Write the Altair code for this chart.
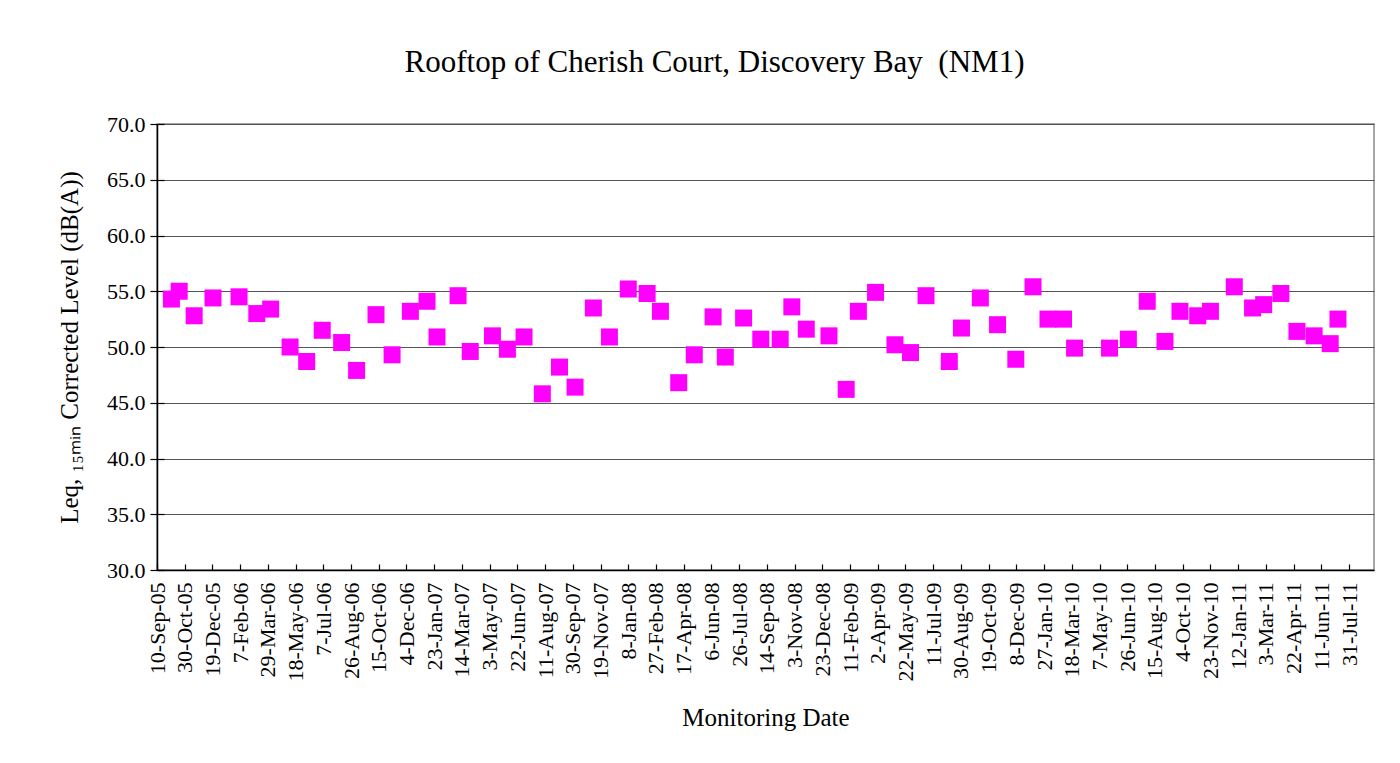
import altair as alt
import pandas as pd

# Monitoring dates and corrected levels (dB(A))
dates = [
    "2005-10-06", "2005-10-20", "2005-11-16", "2005-12-20", "2006-02-05",
    "2006-03-09", "2006-04-03", "2006-05-08", "2006-06-07", "2006-07-05",
    "2006-08-09", "2006-09-05", "2006-10-10", "2006-11-08", "2006-12-11",
    "2007-01-10", "2007-01-28", "2007-03-07", "2007-03-29", "2007-05-08",
    "2007-06-04", "2007-07-04", "2007-08-06", "2007-09-06", "2007-10-04",
    "2007-11-06", "2007-12-05", "2008-01-08", "2008-02-11", "2008-03-06",
    "2008-04-08", "2008-05-06", "2008-06-09", "2008-07-01", "2008-08-03",
    "2008-09-03", "2008-10-08", "2008-10-29", "2008-11-24", "2009-01-04",
    "2009-02-04", "2009-02-26", "2009-03-29", "2009-05-03", "2009-05-31",
    "2009-06-28", "2009-08-09", "2009-08-31", "2009-10-04", "2009-11-04",
    "2009-12-07", "2010-01-07", "2010-02-03", "2010-03-03", "2010-03-23",
    "2010-05-25", "2010-06-28", "2010-08-01", "2010-09-02", "2010-09-29",
    "2010-10-31", "2010-11-23", "2011-01-05", "2011-02-07", "2011-02-27",
    "2011-03-30", "2011-04-28", "2011-05-29", "2011-06-27", "2011-07-11",
]
levels = [
    54.3, 55.0, 52.8, 54.4, 54.5, 53.0, 53.4, 50.0, 48.7, 51.5,
    50.4, 47.9, 52.9, 49.3, 53.2, 54.1, 50.9, 54.6, 49.6, 51.0,
    49.8, 50.9, 45.8, 48.2, 46.4, 53.5, 50.9, 55.2, 54.8, 53.2,
    46.8, 49.3, 52.7, 49.1, 52.6, 50.7, 50.7, 53.6, 51.6, 51.0,
    46.2, 53.2, 54.9, 50.2, 49.5, 54.6, 48.7, 51.7, 54.4, 52.0,
    48.9, 55.4, 52.5, 52.5, 49.9, 49.9, 50.7, 54.1, 50.5, 53.2,
    52.8, 53.2, 55.4, 53.5, 53.8, 54.8, 51.4, 51.0, 50.3, 52.5,
]

# x-axis tick labels (every 50 days)
tick_labels = [
    "10-Sep-05", "30-Oct-05", "19-Dec-05", "7-Feb-06", "29-Mar-06", "18-May-06",
    "7-Jul-06", "26-Aug-06", "15-Oct-06", "4-Dec-06", "23-Jan-07", "14-Mar-07",
    "3-May-07", "22-Jun-07", "11-Aug-07", "30-Sep-07", "19-Nov-07", "8-Jan-08",
    "27-Feb-08", "17-Apr-08", "6-Jun-08", "26-Jul-08", "14-Sep-08", "3-Nov-08",
    "23-Dec-08", "11-Feb-09", "2-Apr-09", "22-May-09", "11-Jul-09", "30-Aug-09",
    "19-Oct-09", "8-Dec-09", "27-Jan-10", "18-Mar-10", "7-May-10", "26-Jun-10",
    "15-Aug-10", "4-Oct-10", "23-Nov-10", "12-Jan-11", "3-Mar-11", "22-Apr-11",
    "11-Jun-11", "31-Jul-11",
]
x_domain = ["10-Sep-05", "14-Sep-11"]
y_ticks = [30, 35, 40, 45, 50, 55, 60, 65, 70]


def to_ms(label):
    return int(pd.Timestamp(pd.to_datetime(label, format="%d-%b-%y")).value // 10**6)


tick_ms = [to_ms(t) for t in tick_labels]
domain_ms = [to_ms(t) for t in x_domain]

df = pd.DataFrame({"date": dates, "level": levels})

FONT = "Liberation Serif"
W, H = 1217, 446

x_scale = alt.Scale(type="utc", domain=domain_ms, nice=False)
y_scale = alt.Scale(domain=[30, 70], nice=False, zero=False)

points = alt.Chart(df).mark_square(size=289, color="#FF00FF", opacity=1).encode(
    x=alt.X(
        "date:T",
        scale=x_scale,
        axis=alt.Axis(
            values=tick_ms,
            labelExpr="utcFormat(datum.value, '%-d-%b-%y')",
            labelAngle=270,
            labelFontSize=22,
            labelPadding=12,
            labelOverlap=False,
            labelFlush=False,
            ticks=False,
            tickSize=0,
            grid=False,
            domainColor="black",
            domainWidth=1.5,
            title="Monitoring Date",
            titleFontSize=25,
            titlePadding=25,
        ),
    ),
    y=alt.Y(
        "level:Q",
        scale=y_scale,
        axis=alt.Axis(
            values=y_ticks,
            format=".1f",
            labelFontSize=22,
            labelPadding=5,
            tickSize=7,
            tickColor="black",
            tickWidth=1.2,
            grid=True,
            gridColor="#555555",
            gridWidth=1.2,
            domainColor="black",
            domainWidth=1.5,
            title="Leq, \u2081\u2085\u2098\u1d62\u2099 Corrected Level (dB(A))",
            titleFontSize=25,
            titlePadding=24,
        ),
    ),
)

tick_layer = alt.Chart(df).mark_square(opacity=0).encode(
    x=alt.X(
        "date:T",
        scale=x_scale,
        axis=alt.Axis(
            orient="top", offset=-H, values=tick_ms, labels=False, domain=False,
            grid=False, ticks=True, tickSize=6, tickColor="black", tickWidth=1.2,
            title=None,
        ),
    ),
    y=alt.Y(
        "level:Q",
        scale=y_scale,
        axis=alt.Axis(
            orient="right", offset=-W, values=y_ticks, labels=False, domain=False,
            grid=False, ticks=True, tickSize=7, tickColor="black", tickWidth=1.2,
            title=None,
        ),
    ),
)

chart = (
    alt.layer(points, tick_layer)
    .resolve_axis(x="independent", y="independent")
    .properties(
        width=W,
        height=H,
        padding={"left": 149, "top": 116, "right": 18, "bottom": 185},
        autosize=alt.AutoSizeParams(type="none"),
        title=alt.TitleParams(
            text="Rooftop of Cherish Court, Discovery Bay \u00a0(NM1)",
            font=FONT,
            fontSize=31,
            fontWeight="normal",
            color="black",
            anchor="middle",
            frame="group",
            dx=-51,
            offset=10,
            baseline="alphabetic",
        ),
    )
    .configure(font=FONT, background="white")
    .configure_axis(
        labelFont=FONT, titleFont=FONT, labelColor="black", titleColor="black",
        titleFontWeight="normal",
    )
    .configure_view(stroke="#888888", strokeWidth=1.5)
)

chart.save("out.html", embed_options={"renderer": "svg", "actions": False})
